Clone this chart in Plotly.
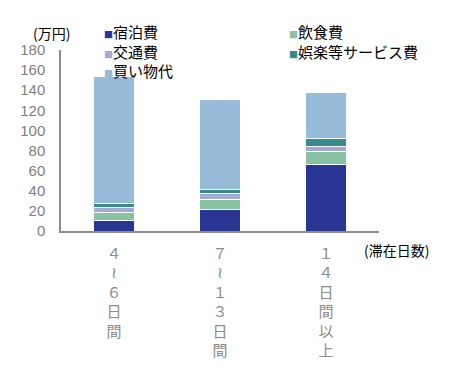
import plotly.graph_objects as go

W = '<span style="font-family:DejaVu Sans;font-size:16px">≀</span>'
categories = [f"４<br>{W}<br>６<br>日<br>間", f"７<br>{W}<br>１<br>３<br>日<br>間", "１<br>４<br>日<br>間<br>以<br>上"]
series_names = ["宿泊費", "飲食費", "交通費", "娯楽等サービス費", "買い物代"]
lodging = [10.2, 21.4, 66.6]
food = [8.5, 10.0, 12.1]
transport = [4.8, 6.3, 5.1]
entertainment = [4.2, 3.6, 8.2]
shopping = [126.0, 89.8, 45.4]
colors = ["#283593", "#87c3a3", "#a3a9d2", "#378b8e", "#96bcd9"]
y_ticks = [0, 20, 40, 60, 80, 100, 120, 140, 160, 180]

values = [lodging, food, transport, entertainment, shopping]
x_idx = [0, 1, 2]

fig = go.Figure()
for name, vals, col in zip(series_names, values, colors):
    fig.add_trace(go.Bar(
        x=x_idx, y=vals, name=name, marker_color=col,
        marker_line_color="white", marker_line_width=1,
        showlegend=False,
    ))

# legend drawn as two multi-line text columns, built from the series
entries = [f'<span style="color:{c};font-size:9px">■</span>{n}' for n, c in zip(series_names, colors)]
col_texts = ["<br>".join(entries[0::2]), "<br>".join(entries[1::2])]
col_x = [0.129, 0.712]
col_y = [0.997, 1.045]
for txt, cx, cy in zip(col_texts, col_x, col_y):
    fig.add_annotation(
        x=cx, y=cy, xref="paper", yref="paper", xanchor="left", yanchor="middle",
        align="left", showarrow=False, text=txt,
        font=dict(size=15, color="#000000", family="Noto Sans CJK JP"),
    )

fig.add_annotation(
    x=-0.095, y=1.092, xref="paper", yref="paper", xanchor="left", yanchor="middle",
    text="(万円)", showarrow=False,
    font=dict(size=14, color="#000000", family="Noto Sans CJK JP"),
)
fig.add_annotation(
    x=0.948, y=-0.106, xref="paper", yref="paper", xanchor="left", yanchor="middle",
    text="(滞在日数)", showarrow=False,
    font=dict(size=14, color="#000000", family="Noto Sans CJK JP"),
)

# page body has an 8px default margin; size the figure so it fits the window
fig.update_layout(
    width=449, height=364,
    barmode="stack", bargap=0.613,
    plot_bgcolor="white", paper_bgcolor="white",
    margin=dict(l=38, r=78, t=42, b=123),
    font=dict(family="Liberation Sans, Noto Sans CJK JP", color="#7f7f7f"),
    xaxis=dict(
        tickmode="array", tickvals=x_idx, ticktext=categories,
        range=[-0.5, 2.5], showline=True, linecolor="#8c8c8c", linewidth=1.5,
        showgrid=False, ticks="", zeroline=False,
        tickfont=dict(size=15, color="#8c8c8c", family="Noto Sans CJK JP"),
        ticklabelstandoff=8,
    ),
    yaxis=dict(
        range=[0, 180], tickmode="array", tickvals=y_ticks,
        showline=True, linecolor="#8c8c8c", linewidth=1.5,
        showgrid=False, ticks="", zeroline=False,
        tickfont=dict(size=15, color="#7f7f7f", family="Liberation Sans"),
        ticklabelstandoff=11,
    ),
)

fig.write_html("out.html")
